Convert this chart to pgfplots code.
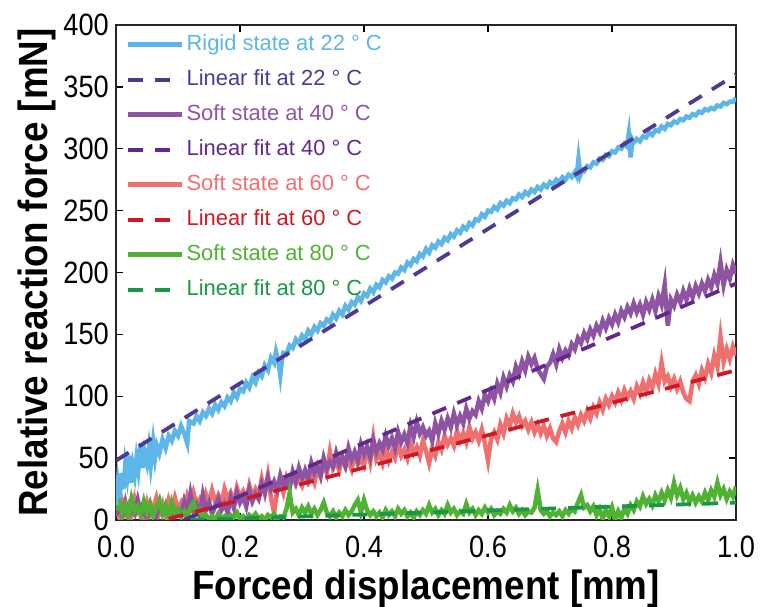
\documentclass[border=0pt]{standalone}
\usepackage{fontspec}
\setmainfont{Liberation Sans}
\newfontfamily\narrowfont[FakeStretch=0.88]{Liberation Sans}
\newfontfamily\condfont[FakeStretch=0.9]{Liberation Sans}
\usepackage{pgfplots}
\pgfplotsset{compat=1.18}
\definecolor{c22}{RGB}{93,182,232}
\definecolor{f22}{RGB}{78,58,150}
\definecolor{c40}{RGB}{142,84,163}
\definecolor{f40}{RGB}{100,40,140}
\definecolor{c60}{RGB}{240,112,112}
\definecolor{f60}{RGB}{205,25,35}
\definecolor{c80}{RGB}{80,178,50}
\definecolor{f80}{RGB}{25,150,70}
\begin{document}
\begin{tikzpicture}
\begin{axis}[
  scale only axis, width=620bp, height=495bp,
  xmin=0, xmax=1, ymin=0, ymax=400,
  xtick={0,0.2,0.4,0.6,0.8,1}, xticklabels={0.0,0.2,0.4,0.6,0.8,1.0},
  ytick={0,50,100,150,200,250,300,350,400},
  yticklabels={0,50,100,150,200,250,300,350,400},
  tick align=inside, major tick length=7bp,
  tick style={line width=1.4bp, black},
  axis line style={line width=1.6bp, black!85},
  ticklabel style={font=\narrowfont\fontsize{31}{31}\selectfont, inner sep=2bp},
  xticklabel style={yshift=-14bp},
  yticklabel style={xshift=-5bp},
  xlabel={Forced displacement [mm]},
  ylabel={Relative reaction force [mN]},
  label style={font=\condfont\bfseries\fontsize{41}{41}\selectfont},
  xlabel style={at={(axis description cs:0.5,-0.139)}, anchor=center},
  ylabel style={at={(axis description cs:-0.127,0.5)}, anchor=center},
  legend style={draw=none, fill=none, at={(0.016,0.986)}, anchor=north west,
    inner sep=0pt, row sep=10bp, font=\fontsize{22}{22}\selectfont,
    nodes={text height=16bp, text depth=5bp, inner sep=2bp}},
  legend cell align=left,
  legend image code/.code={\draw[#1] (0bp,0bp) -- (54bp,0bp);},
]
\coordinate (bl) at (rel axis cs:0,0);
\coordinate (tr) at (rel axis cs:1,1);

% Soft state at 60 C
\addplot[c60, line width=4.5bp, forget plot] coordinates {
(0.000,9)(0.005,3)(0.010,15)(0.015,6)(0.020,12)(0.025,4)(0.030,17)(0.035,7)(0.040,11)(0.045,3)
(0.050,14)(0.055,5)(0.060,10)(0.065,18)(0.070,6)(0.075,13)(0.080,4)(0.085,16)(0.090,8)(0.095,18)
(0.100,9)(0.105,14)(0.110,7)(0.115,19)(0.120,11)(0.125,22)(0.130,13)(0.135,17)(0.140,10)(0.145,21)
(0.150,14)(0.155,24)(0.160,15)(0.165,20)(0.170,13)(0.175,25)(0.180,17)(0.185,22)(0.190,14)(0.195,26)
(0.200,18)(0.205,23)(0.210,16)(0.215,28)(0.220,19)(0.225,25)(0.230,20)(0.235,33)(0.240,22)(0.245,36)
(0.250,18)(0.255,6)(0.260,24)(0.265,30)(0.270,22)(0.275,34)(0.280,27)(0.285,37)(0.290,29)(0.295,33)
(0.300,28)(0.305,39)(0.310,31)(0.315,36)(0.320,30)(0.325,42)(0.330,35)(0.335,46)(0.340,38)(0.345,55)
(0.350,42)(0.355,47)(0.360,40)(0.365,50)(0.370,43)(0.375,48)(0.380,41)(0.385,53)(0.390,45)(0.395,49)
(0.400,44)(0.405,58)(0.410,47)(0.415,66)(0.420,49)(0.425,54)(0.430,46)(0.435,57)(0.440,48)(0.445,55)
(0.450,50)(0.455,61)(0.460,52)(0.465,57)(0.470,50)(0.475,62)(0.480,54)(0.485,59)(0.490,52)(0.495,64)
(0.500,56)(0.505,46)(0.510,58)(0.515,52)(0.520,63)(0.525,57)(0.530,68)(0.535,61)(0.540,66)(0.545,60)
(0.550,72)(0.555,64)(0.560,70)(0.565,63)(0.570,75)(0.575,66)(0.580,71)(0.585,64)(0.590,73)(0.595,62)
(0.600,48)(0.605,66)(0.610,71)(0.615,65)(0.620,77)(0.625,70)(0.630,82)(0.635,76)(0.640,86)(0.645,79)
(0.650,84)(0.655,76)(0.660,80)(0.665,73)(0.670,79)(0.675,71)(0.680,77)(0.685,70)(0.690,76)(0.695,68)
(0.700,74)(0.705,66)(0.710,63)(0.715,72)(0.720,78)(0.725,71)(0.730,80)(0.735,74)(0.740,83)(0.745,77)
(0.750,85)(0.755,80)(0.760,88)(0.765,82)(0.770,91)(0.775,86)(0.780,95)(0.785,89)(0.790,98)(0.795,93)
(0.800,100)(0.805,95)(0.810,103)(0.815,97)(0.820,105)(0.825,99)(0.830,104)(0.835,98)(0.840,108)(0.845,102)
(0.850,111)(0.855,104)(0.860,113)(0.865,107)(0.870,118)(0.875,110)(0.880,127)(0.885,112)(0.890,116)(0.895,108)
(0.900,114)(0.905,106)(0.910,112)(0.915,103)(0.920,98)(0.925,96)(0.930,112)(0.935,117)(0.940,110)(0.945,121)
(0.950,115)(0.955,126)(0.960,119)(0.965,133)(0.970,124)(0.975,148)(0.980,128)(0.985,138)(0.990,130)(0.995,140)
(1.000,133)
};

% Soft state at 40 C
\addplot[c40, line width=4.5bp, forget plot] coordinates {
(0.000,4)(0.005,10)(0.010,3)(0.015,14)(0.020,2)(0.025,9)(0.030,5)(0.035,16)(0.040,4)(0.045,8)
(0.050,1)(0.055,12)(0.060,6)(0.065,3)(0.070,13)(0.075,5)(0.080,9)(0.085,2)(0.090,11)(0.095,4)
(0.100,8)(0.105,3)(0.110,15)(0.115,6)(0.120,21)(0.125,7)(0.130,12)(0.135,4)(0.140,20)(0.145,8)
(0.150,14)(0.155,5)(0.160,11)(0.165,17)(0.170,8)(0.175,13)(0.180,6)(0.185,18)(0.190,10)(0.195,22)
(0.200,14)(0.205,19)(0.210,11)(0.215,24)(0.220,15)(0.225,21)(0.230,17)(0.235,29)(0.240,22)(0.245,34)
(0.250,25)(0.255,31)(0.260,24)(0.265,36)(0.270,28)(0.275,33)(0.280,26)(0.285,39)(0.290,31)(0.295,42)
(0.300,34)(0.305,40)(0.310,33)(0.315,46)(0.320,38)(0.325,44)(0.330,36)(0.335,50)(0.340,41)(0.345,47)
(0.350,43)(0.355,54)(0.360,45)(0.365,51)(0.370,44)(0.375,58)(0.380,49)(0.385,55)(0.390,48)(0.395,61)
(0.400,53)(0.405,59)(0.410,51)(0.415,64)(0.420,55)(0.425,62)(0.430,57)(0.435,68)(0.440,60)(0.445,66)
(0.450,58)(0.455,71)(0.460,63)(0.465,69)(0.470,62)(0.475,76)(0.480,67)(0.485,79)(0.490,70)(0.495,75)
(0.500,68)(0.505,72)(0.510,64)(0.515,78)(0.520,70)(0.525,80)(0.530,73)(0.535,82)(0.540,75)(0.545,86)
(0.550,77)(0.555,84)(0.560,78)(0.565,90)(0.570,82)(0.575,88)(0.580,85)(0.585,96)(0.590,90)(0.595,101)
(0.600,96)(0.605,104)(0.610,98)(0.615,110)(0.620,103)(0.625,115)(0.630,108)(0.635,117)(0.640,112)(0.645,124)
(0.650,118)(0.655,128)(0.660,121)(0.665,132)(0.670,126)(0.675,131)(0.680,122)(0.685,118)(0.690,114)(0.695,124)
(0.700,127)(0.705,134)(0.710,126)(0.715,138)(0.720,131)(0.725,137)(0.730,133)(0.735,142)(0.740,138)(0.745,147)
(0.750,143)(0.755,151)(0.760,146)(0.765,154)(0.770,149)(0.775,157)(0.780,152)(0.785,161)(0.790,155)(0.795,163)
(0.800,158)(0.805,166)(0.810,160)(0.815,169)(0.820,164)(0.825,172)(0.830,167)(0.835,175)(0.840,168)(0.845,174)
(0.850,166)(0.855,176)(0.860,170)(0.865,178)(0.870,169)(0.875,181)(0.880,174)(0.885,190)(0.890,157)(0.895,178)
(0.900,173)(0.905,182)(0.910,176)(0.915,185)(0.920,178)(0.925,187)(0.930,180)(0.935,189)(0.940,183)(0.945,191)
(0.950,185)(0.955,194)(0.960,188)(0.965,198)(0.970,191)(0.975,208)(0.980,190)(0.985,202)(0.990,195)(0.995,206)
(1.000,199)
};

% Soft state at 80 C
\addplot[c80, line width=4.5bp, forget plot] coordinates {
(0.000,8)(0.005,16)(0.010,5)(0.015,12)(0.020,3)(0.025,17)(0.030,7)(0.035,11)(0.040,4)(0.045,15)
(0.050,6)(0.055,13)(0.060,3)(0.065,10)(0.070,16)(0.075,5)(0.080,12)(0.085,2)(0.090,14)(0.095,6)
(0.100,9)(0.105,3)(0.110,7)(0.115,2)(0.120,10)(0.125,14)(0.130,5)(0.135,8)(0.140,2)(0.145,4)
(0.150,1)(0.155,3)(0.160,0)(0.165,5)(0.170,1)(0.175,3)(0.180,0)(0.185,4)(0.190,2)(0.195,6)
(0.200,1)(0.205,3)(0.210,0)(0.215,4)(0.220,2)(0.225,5)(0.230,1)(0.235,3)(0.240,0)(0.245,4)
(0.250,2)(0.255,5)(0.260,1)(0.265,3)(0.270,2)(0.275,9)(0.280,22)(0.285,6)(0.290,9)(0.295,4)
(0.300,10)(0.305,6)(0.310,11)(0.315,5)(0.320,9)(0.325,4)(0.330,8)(0.335,14)(0.340,6)(0.345,3)
(0.350,7)(0.355,2)(0.360,6)(0.365,3)(0.370,8)(0.375,4)(0.380,7)(0.385,12)(0.390,16)(0.395,6)
(0.400,16)(0.405,8)(0.410,4)(0.415,7)(0.420,3)(0.425,6)(0.430,2)(0.435,8)(0.440,4)(0.445,7)
(0.450,3)(0.455,9)(0.460,5)(0.465,8)(0.470,3)(0.475,6)(0.480,2)(0.485,7)(0.490,4)(0.495,8)
(0.500,5)(0.505,12)(0.510,6)(0.515,9)(0.520,4)(0.525,8)(0.530,5)(0.535,12)(0.540,6)(0.545,9)
(0.550,4)(0.555,7)(0.560,5)(0.565,13)(0.570,6)(0.575,9)(0.580,4)(0.585,8)(0.590,5)(0.595,10)
(0.600,6)(0.605,9)(0.610,4)(0.615,7)(0.620,5)(0.625,9)(0.630,6)(0.635,12)(0.640,7)(0.645,10)
(0.650,5)(0.655,8)(0.660,4)(0.665,7)(0.670,6)(0.675,10)(0.680,24)(0.685,8)(0.690,5)(0.695,7)
(0.700,3)(0.705,6)(0.710,4)(0.715,7)(0.720,3)(0.725,8)(0.730,5)(0.735,9)(0.740,7)(0.745,14)
(0.750,20)(0.755,10)(0.760,12)(0.765,7)(0.770,11)(0.775,4)(0.780,9)(0.785,1)(0.790,8)(0.795,3)
(0.800,10)(0.805,0)(0.810,7)(0.815,2)(0.820,9)(0.825,5)(0.830,12)(0.835,8)(0.840,15)(0.845,11)
(0.850,19)(0.855,13)(0.860,17)(0.865,12)(0.870,20)(0.875,15)(0.880,22)(0.885,16)(0.890,24)(0.895,18)
(0.900,30)(0.905,20)(0.910,26)(0.915,17)(0.920,22)(0.925,15)(0.930,20)(0.935,14)(0.940,19)(0.945,15)
(0.950,22)(0.955,16)(0.960,24)(0.965,19)(0.970,30)(0.975,20)(0.980,25)(0.985,17)(0.990,23)(0.995,19)
(1.000,27)
};

% Rigid state at 22 C
\addplot[c22, line width=4.5bp, forget plot] coordinates {
(0.000,12)(0.003,30)(0.006,18)(0.009,38)(0.012,25)(0.015,45)(0.018,35)(0.021,52)(0.024,30)(0.027,44)
(0.030,36)(0.033,50)(0.036,40)(0.040,62)(0.043,42)(0.046,55)(0.050,46)(0.053,58)(0.056,44)(0.060,63)
(0.063,50)(0.066,60)(0.070,54)(0.075,65)(0.080,58)(0.085,68)(0.090,64)(0.095,72)(0.100,68)(0.105,76)
(0.110,70)(0.115,62)(0.118,80)(0.125,78)(0.130,84)(0.135,80)(0.140,87)(0.145,84)(0.150,90)(0.155,86)
(0.160,93)(0.165,89)(0.170,95)(0.175,92)(0.180,99)(0.185,96)(0.190,103)(0.195,99)(0.200,106)(0.205,104)
(0.210,111)(0.215,107)(0.220,115)(0.225,111)(0.230,119)(0.235,116)(0.240,125)(0.245,121)(0.250,131)(0.255,127)
(0.258,136)(0.262,128)(0.265,117)(0.268,131)(0.270,135)(0.275,134)(0.280,141)(0.285,139)(0.290,146)(0.295,143)
(0.300,149)(0.305,146)(0.310,153)(0.315,150)(0.320,156)(0.325,153)(0.330,159)(0.335,157)(0.340,162)(0.345,160)
(0.350,166)(0.355,163)(0.360,169)(0.365,166)(0.370,173)(0.375,170)(0.380,176)(0.385,174)(0.390,180)(0.395,177)
(0.400,183)(0.405,181)(0.410,187)(0.415,184)(0.420,190)(0.425,188)(0.430,194)(0.435,192)(0.440,197)(0.445,195)
(0.450,200)(0.455,199)(0.460,204)(0.465,202)(0.470,208)(0.475,206)(0.480,211)(0.485,209)(0.490,215)(0.495,213)
(0.500,219)(0.505,216)(0.510,222)(0.515,220)(0.520,225)(0.525,223)(0.530,228)(0.535,226)(0.540,231)(0.545,229)
(0.550,234)(0.555,232)(0.560,237)(0.565,235)(0.570,240)(0.575,238)(0.580,243)(0.585,242)(0.590,247)(0.595,245)
(0.600,250)(0.605,249)(0.610,253)(0.615,251)(0.620,256)(0.625,254)(0.630,258)(0.635,256)(0.640,260)(0.645,259)
(0.650,263)(0.655,261)(0.660,265)(0.665,263)(0.670,267)(0.675,265)(0.680,269)(0.685,267)(0.690,271)(0.695,269)
(0.700,273)(0.705,271)(0.710,275)(0.715,273)(0.720,277)(0.725,275)(0.730,279)(0.735,277)(0.740,281)(0.743,278)
(0.746,292)(0.749,279)(0.752,283)(0.755,282)(0.760,286)(0.765,285)(0.770,289)(0.775,288)(0.780,292)(0.785,291)
(0.790,295)(0.795,294)(0.800,298)(0.805,297)(0.810,301)(0.815,300)(0.820,304)(0.824,302)(0.827,312)(0.830,293)
(0.833,307)(0.835,305)(0.840,308)(0.845,306)(0.850,310)(0.855,309)(0.860,313)(0.865,311)(0.870,315)(0.875,314)
(0.880,318)(0.885,316)(0.890,320)(0.895,319)(0.900,322)(0.905,321)(0.910,324)(0.915,323)(0.920,326)(0.925,325)
(0.930,328)(0.935,327)(0.940,330)(0.945,329)(0.950,332)(0.955,331)(0.960,333)(0.965,332)(0.970,335)(0.975,334)
(0.980,337)(0.985,336)(0.990,338)(0.995,338)(1.000,341)
};

% Linear fits
\addplot[f22, line width=3.8bp, dash pattern=on 15bp off 12bp, forget plot] coordinates {(0,48)(1,360)};
\addplot[f40, line width=3.8bp, dash pattern=on 15bp off 12bp, forget plot] coordinates {(0.11,0)(1,191)};
\addplot[f60, line width=3.8bp, dash pattern=on 15bp off 12bp, forget plot] coordinates {(0.085,1)(1,121)};
\addplot[f80, line width=3.8bp, dash pattern=on 15bp off 12bp, forget plot] coordinates {(0.12,0)(1,14)};

% Legend
\addlegendimage{c22, line width=4.5bp}
\addlegendentry{\textcolor{c22}{Rigid state at 22 ° C}}
\addlegendimage{f22, line width=3.8bp, dash pattern=on 15bp off 12bp}
\addlegendentry{\textcolor{f22}{Linear fit at 22 ° C}}
\addlegendimage{c40, line width=4.5bp}
\addlegendentry{\textcolor{c40}{Soft state at 40 ° C}}
\addlegendimage{f40, line width=3.8bp, dash pattern=on 15bp off 12bp}
\addlegendentry{\textcolor{f40}{Linear fit at 40 ° C}}
\addlegendimage{c60, line width=4.5bp}
\addlegendentry{\textcolor{c60}{Soft state at 60 ° C}}
\addlegendimage{f60, line width=3.8bp, dash pattern=on 15bp off 12bp}
\addlegendentry{\textcolor{f60}{Linear fit at 60 ° C}}
\addlegendimage{c80, line width=4.5bp}
\addlegendentry{\textcolor{c80}{Soft state at 80 ° C}}
\addlegendimage{f80, line width=3.8bp, dash pattern=on 15bp off 12bp}
\addlegendentry{\textcolor{f80}{Linear fit at 80 ° C}}
\end{axis}
\pgfresetboundingbox
\path ([xshift=-116bp,yshift=-87bp]bl) rectangle ([xshift=25bp,yshift=25bp]tr);
\end{tikzpicture}
\end{document}
